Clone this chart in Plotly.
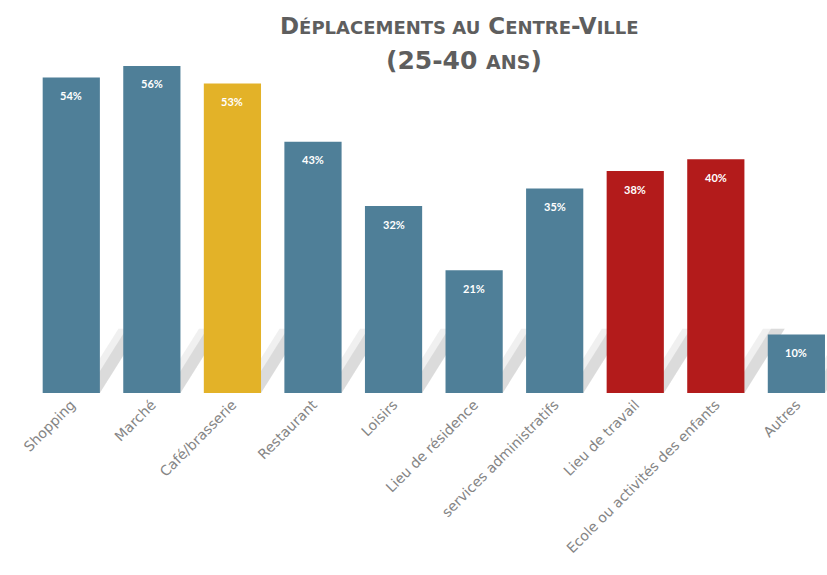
import plotly.graph_objects as go


categories = [
    'Shopping', 'Marché', 'Café/brasserie', 'Restaurant', 'Loisirs',
    'Lieu de résidence', 'services administratifs', 'Lieu de travail',
    'Ecole ou activités des enfants', 'Autres',
]
values = [54, 56, 53, 43, 32, 21, 35, 38, 40, 10]
bar_colors = [
    '#4f7f98', '#4f7f98', '#e3b228', '#4f7f98', '#4f7f98',
    '#4f7f98', '#4f7f98', '#b31b1b', '#b31b1b', '#4f7f98',
]

FONT = 'Lato'
TITLE_FONT = 'DejaVu Sans'
TICK_FONT = 'DejaVu Sans'
BAR_WIDTH = 0.71

fig = go.Figure()

fig.add_trace(go.Bar(
    x=categories,
    y=values,
    width=BAR_WIDTH,
    marker=dict(color=bar_colors, line=dict(width=0)),
    hoverinfo='skip',
))

# value labels near the top of each bar
for cat, v in zip(categories, values):
    fig.add_annotation(
        x=cat, y=v, xref='x', yref='y',
        text=f'{v}%', showarrow=False,
        yanchor='middle', yshift=-18,
        font=dict(family=FONT, size=11, color='white', weight='bold'),
    )

# soft diagonal shadow behind each bar
shadow_w = 0.17
shadow_dx = 0.5
shadow_h = 11
for i in range(len(categories)):
    right = i + BAR_WIDTH / 2
    for k, alpha in enumerate([0.10, 0.16]):
        w = shadow_w + (0.1 if k == 0 else 0)
        path = (f'M {right - w},0 L {right},0 '
                f'L {right + shadow_dx},{shadow_h} L {right + shadow_dx - w},{shadow_h} Z')
        fig.add_shape(type='path', path=path, xref='x', yref='y', layer='below',
                      fillcolor=f'rgba(110,110,110,{alpha})', line=dict(width=0))

# title in small caps, two lines
sc = "<span style='font-size:18px'>{}</span>"
title_line1 = ("D" + sc.format("ÉPLACEMENTS AU") + " C" + sc.format("ENTRE")
               + "-V" + sc.format("ILLE"))
title_line2 = "(25-40 " + "<span style='font-size:19px'>ANS</span>)"
fig.add_annotation(
    text=title_line1, showarrow=False,
    xref='paper', yref='paper',
    x=445 / 827, xanchor='center',
    y=1 + (63 - 26) / 330, yanchor='middle',
    font=dict(family=TITLE_FONT, size=23, color='#5e5e5e', weight='bold'),
)
fig.add_annotation(
    text=title_line2, showarrow=False,
    xref='paper', yref='paper',
    x=450 / 827, xanchor='center',
    y=1 + (63 - 60) / 330, yanchor='middle',
    font=dict(family=TITLE_FONT, size=25, color='#5e5e5e', weight='bold'),
)

fig.update_layout(
    width=827, height=575,
    paper_bgcolor='white', plot_bgcolor='white',
    margin=dict(l=31, r=0, t=63, b=182),
    showlegend=False,
    xaxis=dict(
        type='category',
        range=[-0.5, 9.38],
        tickangle=-45,
        tickfont=dict(family=TICK_FONT, size=14, color='#858585'),
        showgrid=False, showline=False, zeroline=False, ticks='',
    ),
    yaxis=dict(
        range=[0, 56.5],
        visible=False,
    ),
)

fig.write_html('out.html', config={'displayModeBar': False},
               post_script="document.body.style.margin='0';")
